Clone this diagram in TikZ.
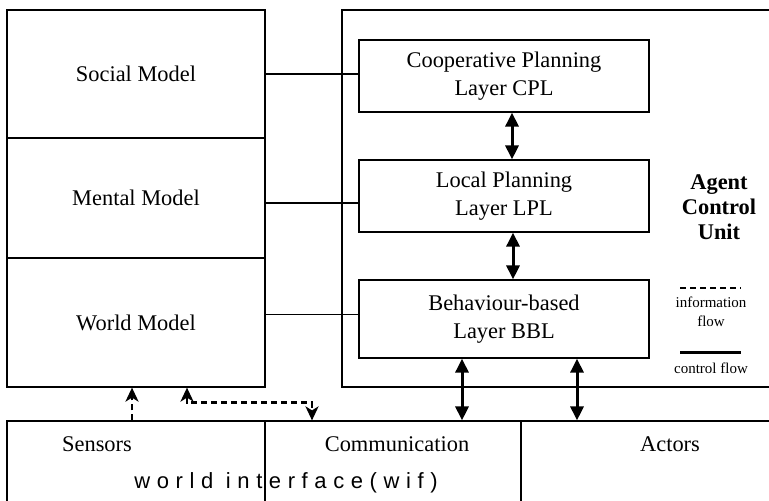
\documentclass[tikz,border=0pt]{standalone}
\usepackage{fontspec}
\setmainfont{Liberation Serif}
\newfontfamily\wiffont{Liberation Sans}[LetterSpace=30]
\usetikzlibrary{arrows.meta}

\tikzset{
  box/.style={draw, line width=0.6pt, inner sep=0pt, align=center, font=\fontsize{11.2}{14}\selectfont},
  ctrl/.style={line width=1.5pt, {Triangle[width=6.5pt,length=7pt]}-{Triangle[width=6.5pt,length=7pt]}},
  info/.style={line width=1.3pt, dash pattern=on 3pt off 2pt, -{Stealth[width=6.5pt,length=7pt,inset=2pt]}},
  lbl/.style={font=\fontsize{11.2}{14}\selectfont},
  small/.style={align=center, font=\fontsize{7.5}{9.5}\selectfont}
}

\begin{document}
\begin{tikzpicture}[x=0.5pt,y=-0.5pt]
		\useasboundingbox (0,0) rectangle (769,500);
		\clip (0,0) rectangle (769,500);
		% models
		\node[box, minimum width=129pt, minimum height=64pt]   (social) at (136,74)    {Social Model};
		\node[box, minimum width=129pt, minimum height=60pt]   (mental) at (136,198)   {Mental Model};
		\node[box, minimum width=129pt, minimum height=64.5pt] (world)  at (136,322.5) {World Model};
		% agent control unit
		\draw[line width=0.6pt] (342,10) rectangle (820,387);
		\node[box, minimum width=145pt, minimum height=36pt] (cpl) at (504,76)  {Cooperative Planning\\Layer CPL};
		\node[box, minimum width=145pt, minimum height=36pt] (lpl) at (504,196) {Local Planning\\Layer LPL};
		\node[box, minimum width=145pt, minimum height=39pt] (bbl) at (504,319) {Behaviour-based\\Layer BBL};
		\node[align=center, font=\bfseries\fontsize{11.2}{12.5}\selectfont] (acu) at (719,207) {Agent\\Control\\Unit};
		% world interface
		\node[box, minimum width=129pt, minimum height=100pt] (sens) at (136,521) {};
		\node[box, minimum width=128pt, minimum height=100pt] (comm) at (393,521) {};
		\node[box, minimum width=150pt, minimum height=100pt] (act)  at (671,521) {};
		\node[lbl] (senstxt) at (97,444)  {Sensors};
		\node[lbl] (commtxt) at (397,444) {Communication};
		\node[lbl] (acttxt)  at (670,444) {Actors};
		\node[font=\wiffont\fontsize{11}{13}\selectfont] (wif) at (286,483) {world interface(wif)};
		% connections
		\draw[line width=0.6pt] (social.east) -- (social.east -| cpl.west);
		\draw[line width=0.6pt] ([yshift=-2.5pt]mental.east) -- ([yshift=-2.5pt]mental.east -| lpl.west);
		\draw[line width=0.6pt] ([yshift=4pt]world.east) -- ([yshift=4pt]world.east -| bbl.west);
		\draw[ctrl] ([xshift=4pt]cpl.south) -- ([xshift=4pt]lpl.north);
		\draw[ctrl] ([xshift=4.5pt]lpl.south) -- ([xshift=4.5pt]bbl.north);
		\draw[ctrl] ([xshift=-21pt]bbl.south) -- ([xshift=-21pt]bbl.south |- comm.north);
		\draw[ctrl] ([xshift=36.5pt]bbl.south) -- ([xshift=36.5pt]bbl.south |- act.north);
		\draw[info] ([xshift=-2pt]sens.north) -- ([xshift=-2pt]world.south);
		\draw[info, {Stealth[width=6.5pt,length=7pt,inset=2pt]}-{Stealth[width=6.5pt,length=7pt,inset=2pt]}] ([xshift=25.5pt]world.south) |- ([xshift=-40.5pt,yshift=9pt]comm.north) -- ([xshift=-40.5pt]comm.north);
		% legend
		\draw[line width=1.2pt, dash pattern=on 3pt off 2pt] (680,288) -- (741,288);
		\node[small] (infotxt) at (711,312) {information\\flow};
		\draw[line width=1.5pt] (680,352) -- (741,352);
		\node[small] (ctrltxt) at (711,368) {control flow};
\end{tikzpicture}
\end{document}
